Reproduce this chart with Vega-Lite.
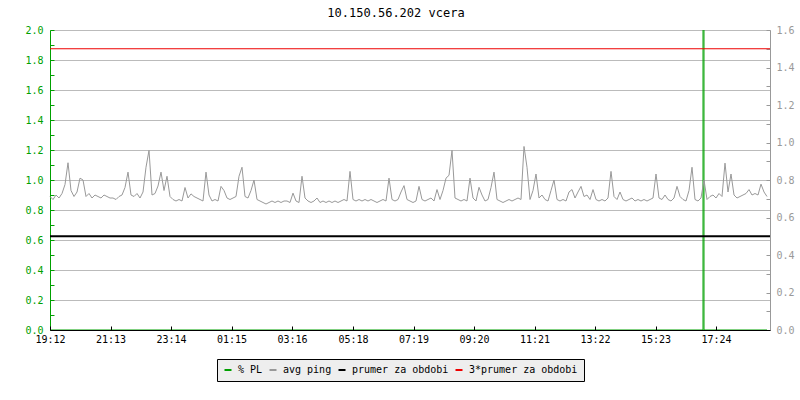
{
  "$schema": "https://vega.github.io/schema/vega-lite/v6.json",
  "width": 720,
  "height": 300,
  "autosize": {"type": "none"},
  "padding": {"left": 50, "top": 30, "right": 30, "bottom": 70},
  "background": "white",
  "title": {
    "text": "10.150.56.202 vcera",
    "font": "DejaVu Sans Mono",
    "fontSize": 12,
    "fontWeight": "normal",
    "color": "#000000",
    "anchor": "middle",
    "dx": -14,
    "offset": 5
  },
  "config": {
    "view": {"stroke": null},
    "font": "DejaVu Sans Mono",
    "axis": {"labelFont": "DejaVu Sans Mono", "labelFontSize": 10, "labelOverlap": false, "labelFlush": false}
  },
  "layer": [
    {
      "data": {
        "values": [
          {"min": 0, "pl": 0},
          {"min": 1306, "pl": 0},
          {"min": 1307, "pl": 100},
          {"min": 1308, "pl": 0},
          {"min": 1434, "pl": 0}
        ]
      },
      "mark": {"type": "line", "strokeWidth": 1, "clip": true},
      "encoding": {
        "x": {
          "field": "min",
          "type": "quantitative",
          "scale": {"domain": [0, 1440], "nice": false, "zero": false},
          "axis": {
            "orient": "bottom",
            "title": null,
            "values": [0, 121, 242, 363, 484, 606, 727, 848, 969, 1090, 1211, 1332],
            "labelExpr": "pad(floor(((1152 + datum.value) % 1440) / 60), 2, '0', 'left') + ':' + pad((1152 + datum.value) % 60, 2, '0', 'left')",
            "domainColor": "#000000",
            "tickColor": "#000000",
            "labelColor": "#000000",
            "tickSize": -4,
            "labelPadding": 8,
            "grid": false,
            "zindex": 1
          }
        },
        "y": {
          "field": "pl",
          "type": "quantitative",
          "scale": {"domain": [0, 2], "nice": false},
          "axis": {
            "orient": "left",
            "title": null,
            "values": [0, 0.1, 0.2, 0.3, 0.4, 0.5, 0.6, 0.7, 0.8, 0.9, 1, 1.1, 1.2, 1.3, 1.4, 1.5, 1.6, 1.7, 1.8, 1.9, 2],
            "labelExpr": "round(datum.value * 10) % 2 == 0 ? format(datum.value, '.1f') : ''",
            "domainColor": "#00a000",
            "tickColor": "#00a000",
            "labelColor": "#00a000",
            "tickSize": -4,
            "labelPadding": 11,
            "grid": true,
            "gridColor": "#bbbbbb",
            "gridOpacity": {"condition": {"test": "round(datum.value * 10) % 2 == 0", "value": 1}, "value": 0}
          }
        },
        "color": {
          "datum": "% PL",
          "scale": {
            "domain": ["% PL", "avg ping", "prumer za obdobi", "3*prumer za obdobi"],
            "range": ["#00a000", "#999999", "#000000", "#ee0000"]
          },
          "legend": {
            "orient": "none",
            "legendX": 167,
            "legendY": 329,
            "direction": "horizontal",
            "title": null,
            "fillColor": "#eeeeee",
            "strokeColor": "#000000",
            "cornerRadius": 0,
            "padding": 6,
            "symbolType": "stroke",
            "symbolSize": 49,
            "symbolStrokeWidth": 2,
            "labelFont": "DejaVu Sans Mono",
            "labelFontSize": 10,
            "labelColor": "#000000",
            "labelOffset": 5,
            "columnPadding": 2
          }
        }
      }
    },
    {
      "encoding": {
        "y": {
          "field": "ping",
          "type": "quantitative",
          "scale": {"domain": [0, 1.6], "nice": false},
          "axis": {
            "orient": "right",
            "title": null,
            "values": [0, 0.1, 0.2, 0.3, 0.4, 0.5, 0.6, 0.7, 0.8, 0.9, 1, 1.1, 1.2, 1.3, 1.4, 1.5, 1.6],
            "labelExpr": "round(datum.value * 10) % 2 == 0 ? format(datum.value, '.1f') : ''",
            "domainColor": "#999999",
            "tickColor": "#999999",
            "labelColor": "#999999",
            "tickSize": -4,
            "labelPadding": 10,
            "grid": false
          }
        }
      },
      "layer": [
        {
          "data": {
            "values": [
              {"min": 0, "ping": 0.712}, {"min": 6, "ping": 0.696}, {"min": 12, "ping": 0.720}, {"min": 18, "ping": 0.704}, {"min": 24, "ping": 0.728},
              {"min": 30, "ping": 0.776}, {"min": 36, "ping": 0.892}, {"min": 42, "ping": 0.744}, {"min": 48, "ping": 0.712}, {"min": 54, "ping": 0.736},
              {"min": 60, "ping": 0.810}, {"min": 66, "ping": 0.800}, {"min": 72, "ping": 0.712}, {"min": 78, "ping": 0.728}, {"min": 84, "ping": 0.704},
              {"min": 90, "ping": 0.720}, {"min": 96, "ping": 0.712}, {"min": 102, "ping": 0.704}, {"min": 108, "ping": 0.720}, {"min": 114, "ping": 0.712},
              {"min": 120, "ping": 0.704}, {"min": 126, "ping": 0.704}, {"min": 132, "ping": 0.696}, {"min": 138, "ping": 0.712}, {"min": 144, "ping": 0.720},
              {"min": 150, "ping": 0.760}, {"min": 156, "ping": 0.842}, {"min": 162, "ping": 0.720}, {"min": 168, "ping": 0.712}, {"min": 174, "ping": 0.728},
              {"min": 180, "ping": 0.704}, {"min": 186, "ping": 0.736}, {"min": 192, "ping": 0.868}, {"min": 198, "ping": 0.958}, {"min": 204, "ping": 0.720},
              {"min": 210, "ping": 0.728}, {"min": 216, "ping": 0.768}, {"min": 222, "ping": 0.842}, {"min": 228, "ping": 0.744}, {"min": 234, "ping": 0.820},
              {"min": 240, "ping": 0.712}, {"min": 246, "ping": 0.696}, {"min": 252, "ping": 0.688}, {"min": 258, "ping": 0.696}, {"min": 264, "ping": 0.688},
              {"min": 270, "ping": 0.760}, {"min": 276, "ping": 0.704}, {"min": 282, "ping": 0.726}, {"min": 288, "ping": 0.712}, {"min": 294, "ping": 0.704},
              {"min": 300, "ping": 0.696}, {"min": 306, "ping": 0.688}, {"min": 312, "ping": 0.842}, {"min": 318, "ping": 0.720}, {"min": 324, "ping": 0.688},
              {"min": 330, "ping": 0.696}, {"min": 336, "ping": 0.688}, {"min": 342, "ping": 0.766}, {"min": 348, "ping": 0.744}, {"min": 354, "ping": 0.704},
              {"min": 360, "ping": 0.696}, {"min": 366, "ping": 0.704}, {"min": 372, "ping": 0.712}, {"min": 378, "ping": 0.820}, {"min": 384, "ping": 0.868},
              {"min": 390, "ping": 0.712}, {"min": 396, "ping": 0.704}, {"min": 402, "ping": 0.744}, {"min": 408, "ping": 0.800}, {"min": 414, "ping": 0.696},
              {"min": 420, "ping": 0.688}, {"min": 426, "ping": 0.680}, {"min": 432, "ping": 0.672}, {"min": 438, "ping": 0.680}, {"min": 444, "ping": 0.688},
              {"min": 450, "ping": 0.680}, {"min": 456, "ping": 0.688}, {"min": 462, "ping": 0.680}, {"min": 468, "ping": 0.688}, {"min": 474, "ping": 0.688},
              {"min": 480, "ping": 0.680}, {"min": 486, "ping": 0.730}, {"min": 492, "ping": 0.688}, {"min": 498, "ping": 0.680}, {"min": 504, "ping": 0.820},
              {"min": 510, "ping": 0.704}, {"min": 516, "ping": 0.688}, {"min": 522, "ping": 0.680}, {"min": 528, "ping": 0.688}, {"min": 534, "ping": 0.704},
              {"min": 540, "ping": 0.680}, {"min": 546, "ping": 0.688}, {"min": 552, "ping": 0.680}, {"min": 558, "ping": 0.688}, {"min": 564, "ping": 0.680},
              {"min": 570, "ping": 0.688}, {"min": 576, "ping": 0.680}, {"min": 582, "ping": 0.688}, {"min": 588, "ping": 0.696}, {"min": 594, "ping": 0.688},
              {"min": 600, "ping": 0.846}, {"min": 606, "ping": 0.696}, {"min": 612, "ping": 0.688}, {"min": 618, "ping": 0.696}, {"min": 624, "ping": 0.688},
              {"min": 630, "ping": 0.696}, {"min": 636, "ping": 0.688}, {"min": 642, "ping": 0.696}, {"min": 648, "ping": 0.688}, {"min": 654, "ping": 0.680},
              {"min": 660, "ping": 0.688}, {"min": 666, "ping": 0.696}, {"min": 672, "ping": 0.688}, {"min": 678, "ping": 0.810}, {"min": 684, "ping": 0.696},
              {"min": 690, "ping": 0.688}, {"min": 696, "ping": 0.696}, {"min": 702, "ping": 0.736}, {"min": 708, "ping": 0.770}, {"min": 714, "ping": 0.696},
              {"min": 720, "ping": 0.688}, {"min": 726, "ping": 0.680}, {"min": 732, "ping": 0.688}, {"min": 738, "ping": 0.766}, {"min": 744, "ping": 0.696},
              {"min": 750, "ping": 0.688}, {"min": 756, "ping": 0.696}, {"min": 762, "ping": 0.704}, {"min": 768, "ping": 0.688}, {"min": 774, "ping": 0.749},
              {"min": 780, "ping": 0.696}, {"min": 786, "ping": 0.744}, {"min": 792, "ping": 0.810}, {"min": 798, "ping": 0.825}, {"min": 804, "ping": 0.958},
              {"min": 810, "ping": 0.704}, {"min": 816, "ping": 0.696}, {"min": 822, "ping": 0.688}, {"min": 828, "ping": 0.696}, {"min": 834, "ping": 0.688},
              {"min": 840, "ping": 0.810}, {"min": 846, "ping": 0.704}, {"min": 852, "ping": 0.688}, {"min": 858, "ping": 0.761}, {"min": 864, "ping": 0.720},
              {"min": 870, "ping": 0.688}, {"min": 876, "ping": 0.696}, {"min": 882, "ping": 0.760}, {"min": 888, "ping": 0.842}, {"min": 894, "ping": 0.696},
              {"min": 900, "ping": 0.688}, {"min": 906, "ping": 0.680}, {"min": 912, "ping": 0.688}, {"min": 918, "ping": 0.696}, {"min": 924, "ping": 0.688},
              {"min": 930, "ping": 0.696}, {"min": 936, "ping": 0.704}, {"min": 942, "ping": 0.696}, {"min": 948, "ping": 0.979}, {"min": 954, "ping": 0.868},
              {"min": 960, "ping": 0.696}, {"min": 966, "ping": 0.744}, {"min": 972, "ping": 0.832}, {"min": 978, "ping": 0.704}, {"min": 984, "ping": 0.720},
              {"min": 990, "ping": 0.696}, {"min": 996, "ping": 0.688}, {"min": 1002, "ping": 0.744}, {"min": 1008, "ping": 0.800}, {"min": 1014, "ping": 0.696},
              {"min": 1020, "ping": 0.688}, {"min": 1026, "ping": 0.696}, {"min": 1032, "ping": 0.688}, {"min": 1038, "ping": 0.736}, {"min": 1044, "ping": 0.749},
              {"min": 1050, "ping": 0.704}, {"min": 1056, "ping": 0.736}, {"min": 1062, "ping": 0.766}, {"min": 1068, "ping": 0.712}, {"min": 1074, "ping": 0.720},
              {"min": 1080, "ping": 0.696}, {"min": 1086, "ping": 0.749}, {"min": 1092, "ping": 0.696}, {"min": 1098, "ping": 0.688}, {"min": 1104, "ping": 0.696},
              {"min": 1110, "ping": 0.688}, {"min": 1116, "ping": 0.704}, {"min": 1122, "ping": 0.846}, {"min": 1128, "ping": 0.712}, {"min": 1134, "ping": 0.696},
              {"min": 1140, "ping": 0.736}, {"min": 1146, "ping": 0.696}, {"min": 1152, "ping": 0.688}, {"min": 1158, "ping": 0.696}, {"min": 1164, "ping": 0.704},
              {"min": 1170, "ping": 0.688}, {"min": 1176, "ping": 0.696}, {"min": 1182, "ping": 0.688}, {"min": 1188, "ping": 0.696}, {"min": 1194, "ping": 0.688},
              {"min": 1200, "ping": 0.696}, {"min": 1206, "ping": 0.704}, {"min": 1212, "ping": 0.832}, {"min": 1218, "ping": 0.704}, {"min": 1224, "ping": 0.696},
              {"min": 1230, "ping": 0.720}, {"min": 1236, "ping": 0.696}, {"min": 1242, "ping": 0.688}, {"min": 1248, "ping": 0.704}, {"min": 1254, "ping": 0.766},
              {"min": 1260, "ping": 0.712}, {"min": 1266, "ping": 0.696}, {"min": 1272, "ping": 0.688}, {"min": 1278, "ping": 0.744}, {"min": 1284, "ping": 0.868},
              {"min": 1290, "ping": 0.696}, {"min": 1296, "ping": 0.688}, {"min": 1302, "ping": 0.704}, {"min": 1308, "ping": 0.800}, {"min": 1314, "ping": 0.696},
              {"min": 1320, "ping": 0.712}, {"min": 1326, "ping": 0.720}, {"min": 1332, "ping": 0.704}, {"min": 1338, "ping": 0.728}, {"min": 1344, "ping": 0.712},
              {"min": 1350, "ping": 0.890}, {"min": 1356, "ping": 0.736}, {"min": 1362, "ping": 0.832}, {"min": 1368, "ping": 0.720}, {"min": 1374, "ping": 0.704},
              {"min": 1380, "ping": 0.712}, {"min": 1386, "ping": 0.720}, {"min": 1392, "ping": 0.728}, {"min": 1398, "ping": 0.749}, {"min": 1404, "ping": 0.720},
              {"min": 1410, "ping": 0.728}, {"min": 1416, "ping": 0.720}, {"min": 1422, "ping": 0.778}, {"min": 1428, "ping": 0.736}, {"min": 1434, "ping": 0.712}
            ]
          },
          "mark": {"type": "line", "strokeWidth": 1},
          "encoding": {
            "x": {"field": "min", "type": "quantitative", "axis": {"title": null}},
            "color": {"datum": "avg ping"}
          }
        },
        {
          "data": {"values": [{"ping": 0.5}]},
          "mark": {"type": "rule", "strokeWidth": 2},
          "encoding": {"color": {"datum": "prumer za obdobi"}}
        },
        {
          "data": {"values": [{"ping": 1.5}]},
          "mark": {"type": "rule", "strokeWidth": 1},
          "encoding": {"color": {"datum": "3*prumer za obdobi"}}
        }
      ]
    }
  ],
  "resolve": {"scale": {"y": "independent"}}
}
